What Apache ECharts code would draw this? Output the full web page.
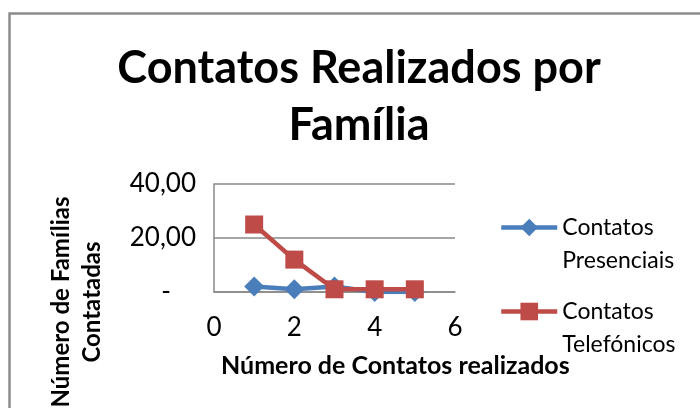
<!DOCTYPE html>
<html>
<head>
<meta charset="utf-8">
<script src="https://cdn.jsdelivr.net/npm/echarts@6/dist/echarts.min.js"></script>
<style>
  html, body { margin: 0; padding: 0; background: #fff; }
  #chart { width: 700px; height: 408px; }
</style>
</head>
<body>
<div id="chart"></div>
<script>
// dados
var contatos = [1, 2, 3, 4, 5];
var presenciais = [2, 1, 2, 0, 0];
var telefonicos = [25, 12, 1, 1, 1];
var yTicks = [0, 20, 40];
var xTicks = [0, 2, 4, 6];

var fonte = 'Lato, "Open Sans", sans-serif';

function pares(xs, ys) {
    var out = [];
    for (var i = 0; i < xs.length; i++) {
        out.push([xs[i], ys[i]]);
    }
    return out;
}

function legenda(nome, l1, l2, top) {
    return {
        data: [nome],
        left: 494, top: top,
        itemWidth: 56, itemHeight: 22, itemGap: 0,
        lineStyle: { width: 4.5 },
        formatter: function () { return '{a|' + l1 + '}\n{a|' + l2 + '}'; },
        textStyle: {
            rich: { a: { fontSize: 23, lineHeight: 33, color: '#000', fontFamily: fonte } },
            padding: [33, 0, 0, 0]
        }
    };
}

var myChart = echarts.init(document.getElementById('chart'));
var option = {
    animation: false,
    backgroundColor: '#fff',
    textStyle: { fontFamily: fonte },
    grid: { left: 214, right: 245, top: 184, bottom: 116, containLabel: false },
    xAxis: {
        type: 'value',
        min: xTicks[0],
        max: xTicks[xTicks.length - 1],
        interval: 2,
        axisLine: { show: true, lineStyle: { color: '#888', width: 1.5 } },
        axisTick: { show: false },
        splitLine: { show: false },
        axisLabel: { color: '#000', fontSize: 26, margin: 23, fontFamily: fonte }
    },
    yAxis: {
        type: 'value',
        min: yTicks[0],
        max: yTicks[yTicks.length - 1],
        interval: 20,
        axisLine: { show: true, lineStyle: { color: '#888', width: 1.5 } },
        axisTick: { show: false },
        splitLine: { show: true, lineStyle: { color: '#888', width: 1.5 } },
        axisLabel: {
            color: '#000', fontSize: 26, margin: 18, fontFamily: fonte,
            formatter: function (v) {
                if (v === 0) return '{d|-}';
                return v.toFixed(2).replace('.', ',');
            },
            rich: { d: { fontSize: 26, padding: [0, 25, 0, 0], fontFamily: fonte } }
        }
    },
    legend: [
        legenda('Contatos Presenciais', 'Contatos', 'Presenciais', 211),
        legenda('Contatos Telefónicos', 'Contatos', 'Telefónicos', 295)
    ],
    graphic: [
        {
            type: 'rect',
            shape: { x: 9.5, y: 13.5, width: 720, height: 420 },
            style: { fill: 'none', stroke: '#8c8c8c', lineWidth: 2.5 },
            silent: true
        },
        {
            type: 'text',
            x: 359, y: 40,
            style: {
                text: 'Contatos Realizados por\nFamília',
                fontSize: 45, fontWeight: 'bold', fontFamily: fonte,
                lineHeight: 57, fill: '#000',
                align: 'center', verticalAlign: 'top'
            }
        },
        {
            type: 'text',
            left: 221, top: 353,
            style: {
                text: 'Número de Contatos realizados',
                fontSize: 25, fontWeight: 'bold', fontFamily: fonte, fill: '#000'
            }
        },
        {
            type: 'text',
            x: 77, y: 302,
            rotation: Math.PI / 2,
            style: {
                text: 'Número de Famílias\nContatadas',
                fontSize: 24, fontWeight: 'bold', fontFamily: fonte,
                lineHeight: 31, fill: '#000',
                align: 'center', verticalAlign: 'middle'
            }
        }
    ],
    series: [
        {
            name: 'Contatos Presenciais',
            type: 'line',
            data: pares(contatos, presenciais),
            symbol: 'diamond',
            symbolSize: 20,
            lineStyle: { color: '#4a7ebb', width: 4.5 },
            itemStyle: { color: '#4a7ebb' }
        },
        {
            name: 'Contatos Telefónicos',
            type: 'line',
            data: pares(contatos, telefonicos),
            symbol: 'rect',
            symbolSize: 18,
            lineStyle: { color: '#be4b48', width: 4.5 },
            itemStyle: { color: '#be4b48' }
        }
    ]
};
myChart.setOption(option);
window.addEventListener('resize', function () { myChart.resize(); });
</script>
</body>
</html>
